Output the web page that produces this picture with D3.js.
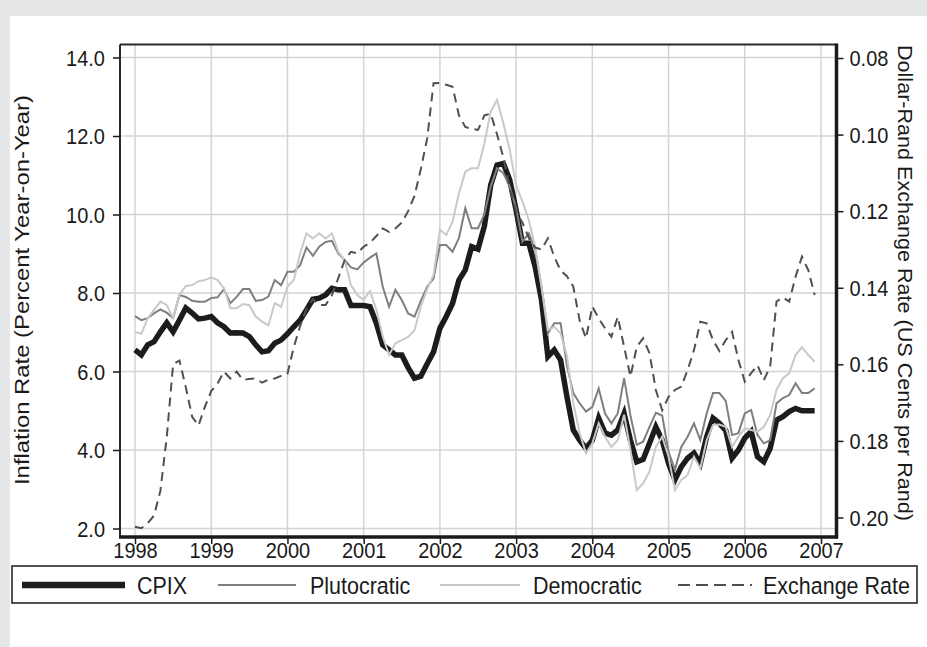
<!DOCTYPE html>
<html>
<head>
<meta charset="utf-8">
<script src="https://cdn.jsdelivr.net/npm/d3@7"></script>
<style>
  html, body { margin: 0; padding: 0; background: #fff; }
  svg { display: block; }
  text { font-family: "Liberation Sans", Arial, Helvetica, sans-serif; fill: #1a1a1a; }
</style>
</head>
<body>
<svg id="chart" width="927" height="647"></svg>
<script>
// ---------------- DATA (monthly, Jan 1998 - Dec 2006) ----------------
const startYear = 1998;
const years = [1998, 1999, 2000, 2001, 2002, 2003, 2004, 2005, 2006, 2007];
const leftTicks = [2, 4, 6, 8, 10, 12, 14];
const rightTicks = [0.08, 0.10, 0.12, 0.14, 0.16, 0.18, 0.20];
const seriesNames = ["CPIX", "Plutocratic", "Democratic", "Exchange Rate"];

const cpix = [
  6.55, 6.42, 6.68, 6.76, 7.01, 7.24, 7.01, 7.31, 7.62, 7.49, 7.34, 7.36,
  7.40, 7.24, 7.14, 6.98, 6.99, 6.98, 6.89, 6.68, 6.50, 6.53, 6.72, 6.80,
  6.96, 7.14, 7.31, 7.57, 7.84, 7.87, 7.95, 8.12, 8.08, 8.08, 7.68, 7.68,
  7.68, 7.65, 7.23, 6.68, 6.55, 6.42, 6.42, 6.10, 5.83, 5.88, 6.20, 6.50,
  7.10, 7.40, 7.74, 8.33, 8.59, 9.18, 9.12, 9.70, 10.75, 11.26, 11.30, 10.88,
  10.11, 9.27, 9.27, 8.67, 7.82, 6.38, 6.55, 6.29, 5.36, 4.51, 4.25, 4.04,
  4.25, 4.81, 4.43, 4.38, 4.51, 4.93, 4.25, 3.70, 3.76, 4.17, 4.59, 4.25,
  3.66, 3.24, 3.57, 3.79, 3.92, 3.66, 4.34, 4.81, 4.68, 4.50, 3.79, 4.00,
  4.30, 4.47, 3.83, 3.70, 4.04, 4.76, 4.85, 4.98, 5.06, 5.00, 5.00, 5.00
];
const plutocratic = [
  7.41, 7.31, 7.36, 7.48, 7.58, 7.50, 7.36, 7.95, 7.90, 7.80, 7.78, 7.78,
  7.87, 7.89, 8.10, 7.74, 7.90, 8.10, 8.10, 7.80, 7.82, 7.91, 8.33, 8.20,
  8.54, 8.54, 8.71, 9.16, 8.95, 9.18, 9.30, 9.33, 9.01, 8.84, 8.65, 8.60,
  8.78, 8.90, 9.01, 8.16, 7.65, 8.08, 7.82, 7.48, 7.40, 7.80, 8.16, 8.37,
  9.22, 9.22, 9.05, 9.40, 10.16, 9.65, 9.65, 10.00, 10.71, 11.18, 11.05, 10.71,
  10.16, 9.31, 9.52, 9.10, 8.16, 6.97, 7.23, 7.23, 6.15, 5.45, 5.19, 4.98,
  5.10, 5.57, 4.93, 4.68, 4.93, 5.83, 4.88, 4.13, 4.21, 4.59, 4.95, 4.88,
  3.95, 3.50, 4.08, 4.34, 4.68, 4.25, 4.93, 5.45, 5.45, 5.25, 4.38, 4.43,
  4.93, 5.02, 4.38, 4.17, 4.25, 5.19, 5.32, 5.40, 5.70, 5.45, 5.45, 5.57
];
const democratic = [
  7.01, 6.96, 7.36, 7.57, 7.78, 7.69, 7.36, 7.95, 8.18, 8.20, 8.30, 8.33,
  8.40, 8.33, 8.12, 7.61, 7.61, 7.72, 7.69, 7.40, 7.27, 7.18, 7.74, 7.65,
  8.16, 8.33, 9.01, 9.52, 9.39, 9.52, 9.39, 9.52, 9.05, 8.84, 8.20, 7.95,
  7.82, 8.05, 7.57, 6.89, 6.42, 6.72, 6.80, 6.88, 7.05, 7.65, 8.10, 8.46,
  9.61, 9.48, 9.82, 10.54, 11.09, 11.18, 11.18, 11.81, 12.62, 12.92, 12.32, 11.64,
  10.75, 10.33, 9.86, 9.18, 8.16, 7.06, 7.14, 6.97, 6.40, 5.20, 4.43, 3.92,
  4.17, 4.68, 4.34, 4.08, 4.25, 4.90, 4.00, 2.98, 3.15, 3.45, 4.08, 4.34,
  3.83, 2.98, 3.24, 3.36, 3.83, 3.53, 4.25, 4.64, 4.65, 4.59, 4.08, 4.34,
  4.55, 4.51, 4.47, 4.59, 4.89, 5.53, 5.83, 5.96, 6.42, 6.62, 6.42, 6.25
];
const exchangeRate = [
  0.2024, 0.2028, 0.2015, 0.1995, 0.1930, 0.1790, 0.1600, 0.1590, 0.1660, 0.1737, 0.1760, 0.1711,
  0.1670, 0.1650, 0.1619, 0.1637, 0.1619, 0.1641, 0.1638, 0.1637, 0.1648, 0.1640, 0.1637, 0.1630,
  0.1625, 0.1555, 0.1500, 0.1455, 0.1430, 0.1445, 0.1445, 0.1420, 0.1375, 0.1328, 0.1306, 0.1310,
  0.1293, 0.1282, 0.1265, 0.1245, 0.1254, 0.1245, 0.1230, 0.1200, 0.1160, 0.1090, 0.1010, 0.0866,
  0.0865, 0.0870, 0.0875, 0.0950, 0.0980, 0.0985, 0.0988, 0.0950, 0.0945, 0.1000, 0.1060, 0.1140,
  0.1200, 0.1230, 0.1270, 0.1295, 0.1300, 0.1271, 0.1319, 0.1355, 0.1370, 0.1397, 0.1485, 0.1532,
  0.1449, 0.1480, 0.1506, 0.1528, 0.1476, 0.1554, 0.1632, 0.1554, 0.1532, 0.1571, 0.1667, 0.1720,
  0.1685, 0.1667, 0.1658, 0.1615, 0.1563, 0.1489, 0.1493, 0.1537, 0.1565, 0.1537, 0.1515, 0.1589,
  0.1645, 0.1623, 0.1602, 0.1641, 0.1606, 0.1436, 0.1425, 0.1436, 0.1371, 0.1319, 0.1354, 0.1419
];

// ---------------- LAYOUT ----------------
const svg = d3.select("#chart");
const W = 927, H = 647;
const frame = { left: 120, right: 836.5, top: 44.5, bottom: 537 };
const FS = 20;          // tick font size
const LFS = 21.5;       // legend font size
const STRETCH = 1.12;   // vertical stretch of glyphs in the reference

svg.append("rect").attr("x", 0).attr("y", 0).attr("width", W).attr("height", H).attr("fill", "#e6e7e8");
svg.append("rect").attr("x", 10).attr("y", 16).attr("width", W - 10).attr("height", H - 16).attr("fill", "#ffffff");

const x = d3.scaleLinear().domain([1998, 2007]).range([135, 821]);
const yL = d3.scaleLinear().domain([2, 14]).range([528.5, 57.5]);
const yR = d3.scaleLinear().domain([0.08, 0.20]).range([58, 517.5]);

const t = i => startYear + i / 12;

// gridlines
const grid = svg.append("g");
grid.selectAll("line.h").data(leftTicks).join("line")
  .attr("x1", frame.left).attr("x2", frame.right)
  .attr("y1", d => yL(d)).attr("y2", d => yL(d))
  .attr("stroke", "#d4d4d4").attr("stroke-width", 1.5);
grid.selectAll("line.v").data(years).join("line")
  .attr("y1", frame.top).attr("y2", frame.bottom)
  .attr("x1", d => x(d)).attr("x2", d => x(d))
  .attr("stroke", "#d4d4d4").attr("stroke-width", 1.5);

// series lines
const lineL = d3.line().x((d, i) => x(t(i))).y(d => yL(d));
const lineR = d3.line().x((d, i) => x(t(i))).y(d => yR(d));

const styles = [
  { data: cpix, gen: lineL, color: "#1c1c1c", width: 5.5, dash: null },
  { data: plutocratic, gen: lineL, color: "#7f7f7f", width: 2, dash: null },
  { data: democratic, gen: lineL, color: "#c9c9c9", width: 2, dash: null },
  { data: exchangeRate, gen: lineR, color: "#505050", width: 2, dash: "9,6" }
];
styles.forEach(s => {
  svg.append("path").datum(s.data)
    .attr("d", s.gen)
    .attr("fill", "none")
    .attr("stroke", s.color)
    .attr("stroke-width", s.width)
    .attr("stroke-linejoin", "miter")
    .attr("stroke-dasharray", s.dash);
});

// frame
svg.append("line").attr("x1", frame.left).attr("x2", frame.right).attr("y1", frame.top).attr("y2", frame.top)
  .attr("stroke", "#2a2a2a").attr("stroke-width", 2);
svg.append("line").attr("x1", frame.left).attr("x2", frame.left).attr("y1", frame.top).attr("y2", frame.bottom)
  .attr("stroke", "#2a2a2a").attr("stroke-width", 2);
svg.append("line").attr("x1", frame.right).attr("x2", frame.right).attr("y1", frame.top - 1).attr("y2", frame.bottom + 1.5)
  .attr("stroke", "#1a1a1a").attr("stroke-width", 3.5);
svg.append("line").attr("x1", frame.left - 1).attr("x2", frame.right + 1.5).attr("y1", frame.bottom).attr("y2", frame.bottom)
  .attr("stroke", "#1a1a1a").attr("stroke-width", 3.5);

// axes
function styleAxis(g) {
  g.select(".domain").remove();
  g.selectAll(".tick line").attr("stroke", "#1a1a1a").attr("stroke-width", 1.5);
  g.selectAll(".tick text").attr("font-size", FS).attr("fill", "#1a1a1a");
}
const axL = svg.append("g").attr("transform", `translate(${frame.left},0)`)
  .call(d3.axisLeft(yL).tickValues(leftTicks).tickFormat(d3.format(".1f")).tickSize(7).tickPadding(8));
styleAxis(axL);
axL.selectAll(".tick text").attr("dy", 0).attr("transform", `translate(0,${0.34 * FS * STRETCH}) scale(1,${STRETCH})`);

const axR = svg.append("g").attr("transform", `translate(${frame.right},0)`)
  .call(d3.axisRight(yR).tickValues(rightTicks).tickFormat(d3.format(".2f")).tickSize(7).tickPadding(6));
styleAxis(axR);
axR.selectAll(".tick text").attr("dy", 0).attr("transform", `translate(0,${0.34 * FS * STRETCH}) scale(1,${STRETCH})`);

const axB = svg.append("g").attr("transform", `translate(0,${frame.bottom})`)
  .call(d3.axisBottom(x).tickValues(years).tickFormat(d3.format("d")).tickSize(7).tickPadding(5));
styleAxis(axB);
axB.selectAll(".tick text").attr("y", 0).attr("dy", 0).attr("transform", `translate(0,21) scale(1,${STRETCH})`);

// axis titles
svg.append("text")
  .attr("transform", `translate(29,290) rotate(-90)`)
  .attr("text-anchor", "middle").attr("font-size", 20)
  .attr("textLength", 390).attr("lengthAdjust", "spacingAndGlyphs")
  .text("Inflation Rate (Percent Year-on-Year)");
svg.append("text")
  .attr("transform", `translate(898,283) rotate(90)`)
  .attr("text-anchor", "middle").attr("font-size", 20)
  .attr("textLength", 476).attr("lengthAdjust", "spacingAndGlyphs")
  .text("Dollar-Rand Exchange Rate (US Cents per Rand)");

// legend
const leg = svg.append("g");
leg.append("rect").attr("x", 12).attr("y", 566).attr("width", 905).attr("height", 37)
  .attr("fill", "#fff").attr("stroke", "#1a1a1a").attr("stroke-width", 1.5);
const legX = [{ x1: 22, x2: 125, tx: 137 }, { x1: 218, x2: 296, tx: 310 }, { x1: 440, x2: 520, tx: 533 }, { x1: 678, x2: 752, tx: 763 }];
const legY = 585;
styles.forEach((s, i) => {
  leg.append("line").attr("x1", legX[i].x1).attr("x2", legX[i].x2).attr("y1", legY).attr("y2", legY)
    .attr("stroke", s.color).attr("stroke-width", i === 0 ? 6.5 : s.width)
    .attr("stroke-dasharray", s.dash ? "12,6" : null);
  leg.append("text")
    .attr("transform", `translate(${legX[i].tx},${legY + 0.36 * LFS * STRETCH}) scale(1,${STRETCH})`)
    .attr("font-size", LFS)
    .text(seriesNames[i]);
});
</script>
</body>
</html>
